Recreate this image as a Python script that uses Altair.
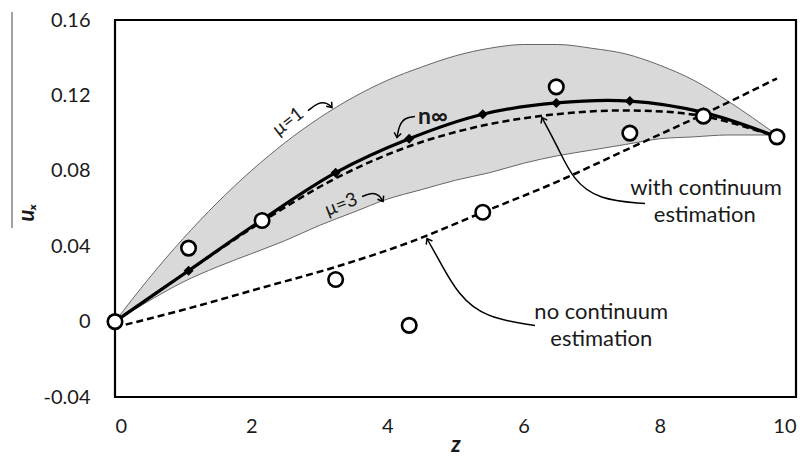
import altair as alt
import pandas as pd

# ---- data ----
band_z = [0, 0.5, 1, 1.5, 2, 2.5, 3, 3.5, 4, 4.5, 5, 5.5, 6, 6.5, 7, 7.5, 8, 8.5, 9, 9.72]
mu1 = [0, 0.023, 0.044, 0.063, 0.080, 0.095, 0.108, 0.119, 0.128, 0.135, 0.141, 0.145,
       0.147, 0.147, 0.145, 0.142, 0.136, 0.128, 0.117, 0.099]
mu3 = [0, 0.011, 0.021, 0.029, 0.036, 0.043, 0.051, 0.058, 0.065, 0.070, 0.075, 0.079,
       0.084, 0.088, 0.091, 0.094, 0.097, 0.098, 0.099, 0.099]

z_pts = [0, 1.08, 2.16, 3.24, 4.32, 5.40, 6.48, 7.56, 8.64, 9.72]
circles_y = [0, 0.039, 0.0536, 0.0223, -0.002, 0.058, 0.1245, 0.100, 0.109, 0.098]
n_inf = [0, 0.027, 0.054, 0.079, 0.097, 0.110, 0.116, 0.117, 0.111, 0.098]
with_cont = [0, 0.027, 0.053, 0.076, 0.093, 0.104, 0.110, 0.112, 0.109, 0.098]
no_cont = [-0.003, 0.007, 0.018, 0.029, 0.042, 0.058, 0.074, 0.092, 0.110, 0.129]

x_ticks = [0, 2, 4, 6, 8, 10]
y_ticks = [-0.04, 0, 0.04, 0.08, 0.12, 0.16]

# annotation texts
ann_text = ["with continuum", "estimation", "no continuum", "estimation"]
ann_z = [8.68, 8.66, 7.14, 7.14]
ann_y = [0.0711, 0.0568, 0.0053, -0.0090]
ninf_text = ["n∞"]
ninf_z = [4.67]
ninf_y = [0.1088]

# annotation arrows (curved paths) in data coordinates
arrow_id = ["mu1"] * 4 + ["mu3"] * 4 + ["ninf"] * 4 + ["with"] * 5 + ["no"] * 5
arrow_z = [2.834, 2.981, 3.113, 3.186,
           3.627, 3.759, 3.877, 3.935,
           4.405, 4.258, 4.170, 4.141,
           7.783, 7.093, 6.725, 6.505, 6.270,
           6.167, 5.433, 5.037, 4.772, 4.581]
arrow_y = [0.1119, 0.1162, 0.1162, 0.1135,
           0.0663, 0.0684, 0.0674, 0.0637,
           0.1088, 0.1082, 0.1040, 0.0976,
           0.0626, 0.0647, 0.0753, 0.0923, 0.1082,
           -0.0021, 0.0021, 0.0143, 0.0318, 0.0440]
tip_z = [3.186, 3.935, 4.141, 6.270, 4.581]
tip_y = [0.1135, 0.0637, 0.0976, 0.1082, 0.0440]
tip_angle = [50, 60, 99, 242, 240]

FONT = "Lato"
TXT = "#1a1a1a"

xs = alt.Scale(domain=[0, 10], nice=False, zero=False)
ys = alt.Scale(domain=[-0.04, 0.16], nice=False, zero=False)

band_df = pd.DataFrame({"z": band_z, "mu1": mu1, "mu3": mu3})
pts_df = pd.DataFrame({"z": z_pts, "circ": circles_y, "ninf": n_inf,
                       "withc": with_cont, "noc": no_cont})
ann_df = pd.DataFrame({"t": ann_text, "z": ann_z, "y": ann_y})
ninf_df = pd.DataFrame({"t": ninf_text, "z": ninf_z, "y": ninf_y})
arr_df = pd.DataFrame({"id": arrow_id, "z": arrow_z, "y": arrow_y,
                       "o": list(range(len(arrow_z)))})
tip_df = pd.DataFrame({"z": tip_z, "y": tip_y, "a": tip_angle})

X = lambda f: alt.X(f"{f}:Q", scale=xs, title="z",
                    axis=alt.Axis(values=x_ticks, format="d", grid=False, ticks=False,
                                  domain=False, labelFontSize=20, labelFont=FONT,
                                  labelColor=TXT, labelPadding=19, titleFontSize=22,
                                  titleFont=FONT, titleFontStyle="italic",
                                  titleFontWeight="bold", titleColor=TXT, titleY=37,
                                  titleBaseline="top"))
Y = lambda f: alt.Y(f"{f}:Q", scale=ys, title="uₓ",
                    axis=alt.Axis(values=y_ticks, grid=False, ticks=False, domain=False,
                                  labelFontSize=20, labelFont=FONT, labelColor=TXT,
                                  labelPadding=25,
                                  labelExpr="datum.value == 0 ? '0' : (datum.value < 0 ? '-' + format(-datum.value, '.2f') : format(datum.value, '.2f'))",
                                  titleFontSize=22, titleFont=FONT, titleFontStyle="italic",
                                  titleFontWeight="bold", titleColor=TXT, titleAngle=-90,
                                  titleX=-82, titleY=192, titleAlign="center",
                                  titleBaseline="alphabetic"))

band = alt.Chart(band_df).mark_area(color="#d9d9d9", interpolate="monotone").encode(
    x=X("z"), y=Y("mu1"), y2="mu3")
edge1 = alt.Chart(band_df).mark_line(color="#666666", strokeWidth=1, interpolate="monotone").encode(
    x="z:Q", y="mu1:Q")
edge3 = alt.Chart(band_df).mark_line(color="#666666", strokeWidth=1, interpolate="monotone").encode(
    x="z:Q", y="mu3:Q")

noc_line = alt.Chart(pts_df).mark_line(color="black", strokeWidth=2.5, strokeDash=[7, 4],
                                       interpolate="monotone").encode(x="z:Q", y="noc:Q")
with_line = alt.Chart(pts_df).mark_line(color="black", strokeWidth=2.5, strokeDash=[7, 4],
                                        interpolate="catmull-rom").encode(x="z:Q", y="withc:Q")
ninf_line = alt.Chart(pts_df).mark_line(color="black", strokeWidth=3.2,
                                        interpolate="catmull-rom").encode(x="z:Q", y="ninf:Q")
ninf_pts = alt.Chart(pts_df).mark_point(shape="diamond", filled=True, color="black", size=100,
                                        opacity=1).encode(x="z:Q", y="ninf:Q")
circles = alt.Chart(pts_df).mark_point(shape="circle", filled=True, fill="white", stroke="black",
                                       strokeWidth=2.6, size=210, opacity=1).encode(
    x="z:Q", y="circ:Q")

mu1_txt = alt.Chart(pd.DataFrame({"t": ["μ=1"], "z": [2.54], "y": [0.1061]})).mark_text(
    angle=322, fontSize=19, font=FONT, color=TXT).encode(x="z:Q", y="y:Q", text="t:N")
mu3_txt = alt.Chart(pd.DataFrame({"t": ["μ=3"], "z": [3.32], "y": [0.0621]})).mark_text(
    angle=339, fontSize=19, font=FONT, color=TXT).encode(x="z:Q", y="y:Q", text="t:N")
ann = alt.Chart(ann_df).mark_text(font=FONT, color=TXT, fontSize=22).encode(
    x="z:Q", y="y:Q", text="t:N")
ninf_txt = alt.Chart(ninf_df).mark_text(font=FONT, color=TXT, fontSize=23,
                                        fontWeight="bold").encode(x="z:Q", y="y:Q", text="t:N")

arrows = alt.Chart(arr_df).mark_line(color="black", strokeWidth=1.5, interpolate="basis").encode(
    x="z:Q", y="y:Q", detail="id:N", order="o:Q")
tips = alt.Chart(tip_df).mark_point(shape="M -1 -0.75 L 0 0 L -1 0.75", filled=False,
                                    stroke="black", strokeWidth=1.5, size=90, opacity=1).encode(
    x="z:Q", y="y:Q", angle=alt.Angle("a:Q", scale=None))

overline = alt.Chart(pd.DataFrame({"a": [0]})).mark_rule(color="#444444", strokeWidth=1).encode(
    x=alt.value(-103), y=alt.value(-8), y2=alt.value(208))

chart = alt.layer(band, edge1, edge3, noc_line, with_line, ninf_line, ninf_pts, circles,
                  mu1_txt, mu3_txt, ann, ninf_txt, arrows, tips, overline).properties(
    width=681, height=377,
    autosize=alt.AutoSizeParams(type="none"),
    padding={"left": 107, "top": 12, "right": 4, "bottom": 59},
).configure_view(stroke="black", strokeWidth=2.2)

chart.save("out.html", embed_options={"renderer": "svg", "actions": False})
